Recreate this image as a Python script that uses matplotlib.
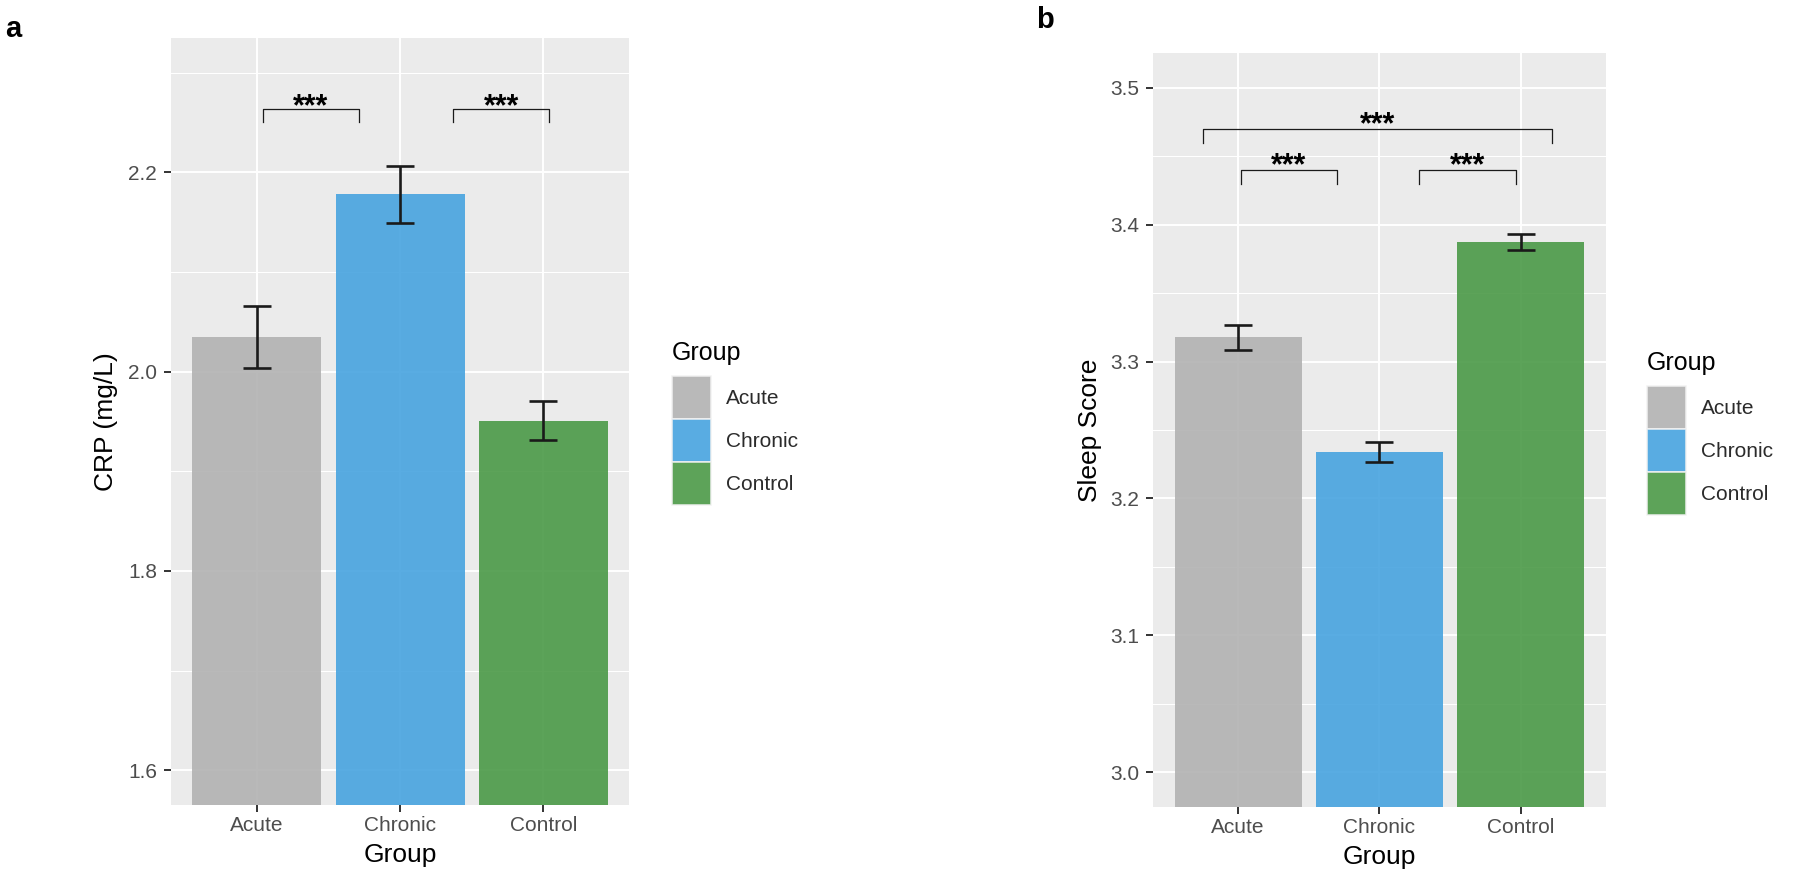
import numpy as np
import matplotlib.pyplot as plt
from matplotlib.patches import Patch
from matplotlib.ticker import MultipleLocator

plt.rcParams['font.family'] = ['Liberation Sans', 'DejaVu Sans']

# --------------------------------------------------
# Data
# --------------------------------------------------
groups = ['Acute', 'Chronic', 'Control']
colours = ['#B0B0B0', '#42A1DF', '#469742']

crp_mean = [2.035, 2.178, 1.951]
crp_se = [0.031, 0.0285, 0.020]
crp_pairs = [(1.04, 1.71), (2.37, 3.04)]
crp_pair_y = [2.264, 2.264]
crp_stars = ['***', '***']

sleep_mean = [3.3176, 3.2341, 3.3873]
sleep_se = [0.0092, 0.0073, 0.0058]
sleep_pairs = [(0.75, 3.22), (1.02, 1.70), (2.28, 2.965)]
sleep_pair_y = [3.4695, 3.44, 3.44]
sleep_stars = ['***', '***', '***']

# --------------------------------------------------
# Figure layout (pixels)
# --------------------------------------------------
W, H = 1800, 883
fig = plt.figure(figsize=(W / 100, H / 100), dpi=100)


def px_axes(left, top, right, bottom):
    return fig.add_axes([left / W, 1 - bottom / H, (right - left) / W, (bottom - top) / H])


def draw_panel(ax, means, se, ylabel, ylim, step, pairs, pair_y, stars, tip,
               star_off, ylab_x, leg_xy, box):
    x = np.arange(1, len(groups) + 1)
    ax.set_facecolor('#EBEBEB')
    ax.set_axisbelow(True)
    ax.bar(x, means, width=0.9, color=colours, alpha=0.88, zorder=2)
    ax.errorbar(x, means, yerr=se, fmt='none', ecolor='#1A1A1A',
                elinewidth=1.9, capsize=10, capthick=1.9, zorder=3)

    for (x0, x1), y, s in zip(pairs, pair_y, stars):
        ax.plot([x0, x0, x1, x1], [y - tip, y, y, y - tip],
                color='#1A1A1A', lw=0.9, zorder=4)
        ax.annotate(s, xy=((x0 + x1) / 2, y), xytext=(0, star_off),
                    textcoords='offset points', ha='center', va='baseline',
                    fontsize=22, fontweight='bold', color='black', zorder=5)

    ax.set_xlim(0.4, 3.6)
    ax.set_ylim(*ylim)
    ax.set_xticks(x)
    ax.set_xticklabels(groups)
    ax.yaxis.set_major_locator(MultipleLocator(step))
    ax.yaxis.set_minor_locator(MultipleLocator(step / 2))
    ax.yaxis.set_major_formatter(plt.FormatStrFormatter('%.1f'))
    ax.grid(which='major', color='white', lw=1.4)
    ax.grid(which='minor', axis='y', color='white', lw=0.75)
    ax.tick_params(axis='both', which='major', length=4.8, width=1.4,
                   color='#333333', labelsize=15, labelcolor='#4D4D4D')
    ax.tick_params(axis='y', which='minor', length=0)
    ax.tick_params(axis='x', pad=3.3)
    ax.tick_params(axis='y', pad=5.3)
    for sp in ax.spines.values():
        sp.set_visible(False)

    left, top, right, bottom = box
    ax.set_ylabel(ylabel, fontsize=19, color='black', va='center')
    ax.yaxis.set_label_coords((ylab_x - left) / (right - left), 0.5)
    ax.set_xlabel('Group', fontsize=19, color='black', va='center')
    ax.xaxis.set_label_coords(0.5, -50 / (bottom - top))

    handles = [Patch(facecolor=c, edgecolor='#F2F2F2', linewidth=1.2,
                     alpha=0.88, label=g) for g, c in zip(groups, colours)]
    leg = ax.legend(handles=handles, title='Group', loc='upper left',
                    bbox_to_anchor=(leg_xy[0] / W, 1 - leg_xy[1] / H),
                    bbox_transform=fig.transFigure, frameon=False,
                    fontsize=15, title_fontsize=18, handlelength=1.85,
                    handleheight=2.8, labelspacing=0.0, handletextpad=0.74,
                    borderpad=0, borderaxespad=0, alignment='left')
    leg._legend_box.sep = 7.9
    for t in leg.get_texts():
        t.set_color('#2B2B2B')


box_a = (171, 38, 629.3, 805)
box_b = (1153.3, 53.3, 1605.6, 806.7)
ax_a = px_axes(*box_a)
ax_b = px_axes(*box_b)

draw_panel(ax_a, crp_mean, crp_se, 'CRP (mg/L)', (1.565, 2.335), 0.2,
           crp_pairs, crp_pair_y, crp_stars, 0.0134, -4.4, 106,
           (672, 341), box_a)
draw_panel(ax_b, sleep_mean, sleep_se, 'Sleep Score', (2.975, 3.525), 0.1,
           sleep_pairs, sleep_pair_y, sleep_stars, 0.0103, -2.9, 1090,
           (1647, 351), box_b)

fig.text(5 / W, 1 - 37.3 / H, 'a', fontsize=21, fontweight='bold',
         ha='left', va='baseline')
fig.text(1036 / W, 1 - 27.5 / H, 'b', fontsize=21, fontweight='bold',
         ha='left', va='baseline')

fig.savefig('out.png', dpi=100)
